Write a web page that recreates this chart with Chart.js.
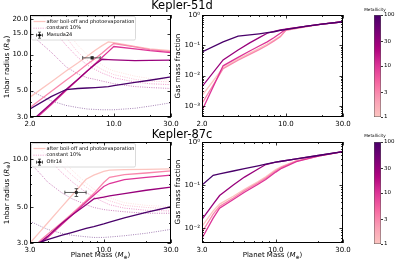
<!DOCTYPE html>
<html>
<head>
<meta charset="utf-8">
<script src="https://cdn.jsdelivr.net/npm/chart.js@4.4.1/dist/chart.umd.min.js"></script>
<style>
  body { margin: 0; background: #fff; }
  #fig { position: relative; width: 397px; height: 264px; overflow: hidden; font-family: 'DejaVu Sans', sans-serif; color: #000; }
  canvas { position: absolute; }
  .lbl { position: absolute; white-space: nowrap; line-height: 1; transform: translate(-50%, -50%); }
  .rot { transform: translate(-50%, -50%) rotate(-90deg); }
  .sub { font-size: 70%; vertical-align: -0.3em; }
</style>
</head>
<body>
<div id="fig">
  <canvas id="tl" width="200" height="132" style="left:0;top:0"></canvas>
  <canvas id="tr" width="185" height="132" style="left:172px;top:0"></canvas>
  <canvas id="bl" width="200" height="132" style="left:0;top:132px"></canvas>
  <canvas id="br" width="185" height="132" style="left:172px;top:132px"></canvas>
  <canvas id="cb1" width="37" height="132" style="left:360px;top:0"></canvas>
  <canvas id="cb2" width="37" height="132" style="left:360px;top:132px"></canvas>

  <div class="lbl" style="left:182px;top:6px;font-size:11.5px">Kepler-51d</div>
  <div class="lbl" style="left:182px;top:135px;font-size:11.5px">Kepler-87c</div>
  <div class="lbl rot" style="left:7px;top:67px;font-size:7.2px">1nbar radius (<i>R</i><span class="sub">⊕</span>)</div>
  <div class="lbl rot" style="left:7px;top:193px;font-size:7.2px">1nbar radius (<i>R</i><span class="sub">⊕</span>)</div>
  <div class="lbl rot" style="left:177.5px;top:66px;font-size:7.2px">Gas mass fraction</div>
  <div class="lbl rot" style="left:177.5px;top:192px;font-size:7.2px">Gas mass fraction</div>
  <div class="lbl" style="left:100.5px;top:256px;font-size:7px">Planet Mass (<i>M</i><span class="sub">⊕</span>)</div>
  <div class="lbl" style="left:272.5px;top:256px;font-size:7px">Planet Mass (<i>M</i><span class="sub">⊕</span>)</div>
  <div class="lbl" style="left:375px;top:10px;font-size:4.2px">Metallicity</div>
  <div class="lbl" style="left:375px;top:136px;font-size:4.2px">Metallicity</div>
</div>
<script>
// metallicity of each model track
const metallicities = [1, 3, 10, 30, 100];
const cbarTicks = [1, 3, 10, 30, 100];

// ---- Kepler-51d ----
const massGrid51 = [2, 3, 4, 5, 6, 7, 8, 9, 10, 15, 20, 30];
const radZ1_51   = [4.4, 5.9, 7.3, 8.5, 9.7, 10.9, 11.9, 12.8, 12.6, 11.7, 11.2, 10.8];
const radZ3_51   = [3.6, 4.9, 6.1, 7.2, 8.3, 9.3, 10.3, 11.4, 12.4, 11.6, 11.0, 10.6];
const radZ10_51  = [2.63, 3.8, 5.0, 6.15, 7.3, 8.4, 9.5, 10.6, 11.7, 11.2, 10.8, 10.4];
const radZ30_51  = [2.7, 3.9, 5.1, 6.2, 7.3, 8.3, 9.15, 9.1, 9.05, 8.9, 8.95, 9.0];
const radZ100_51 = [3.5, 4.45, 5.1, 5.2, 5.25, 5.3, 5.35, 5.4, 5.5, 5.85, 6.1, 6.5];
const dotZ1_51   = [45, 25, 16, 12, 10, 9.0, 8.2, 7.6, 7.3, 6.6, 6.3, 6.1];
const dotZ3_51   = [38, 21, 14, 10.5, 9.0, 8.1, 7.5, 7.1, 6.8, 6.2, 6.0, 5.9];
const dotZ10_51  = [30, 17, 12, 9.5, 8.2, 7.5, 7.0, 6.7, 6.4, 5.9, 5.7, 5.6];
const dotZ30_51  = [15, 10.5, 7.9, 6.9, 6.4, 6.2, 6.0, 5.85, 5.7, 5.4, 5.3, 5.2];
const dotZ100_51 = [5.0, 4.1, 3.75, 3.6, 3.5, 3.47, 3.45, 3.45, 3.45, 3.55, 3.7, 3.95];
const gasZ1_51   = [0.0022, 0.018, 0.035, 0.055, 0.08, 0.11, 0.15, 0.2, 0.32, 0.42, 0.5, 0.6];
const gasZ3_51   = [0.0012, 0.017, 0.032, 0.05, 0.072, 0.1, 0.14, 0.19, 0.31, 0.41, 0.5, 0.6];
const gasZ10_51  = [0.0007, 0.021, 0.04, 0.065, 0.095, 0.13, 0.18, 0.25, 0.34, 0.43, 0.5, 0.6];
const gasZ30_51  = [0.0043, 0.033, 0.07, 0.12, 0.18, 0.25, 0.29, 0.32, 0.34, 0.43, 0.5, 0.6];
const gasZ100_51 = [0.06, 0.13, 0.2, 0.22, 0.24, 0.26, 0.28, 0.31, 0.33, 0.43, 0.5, 0.6];
const obsMass51 = [6.6], obsMassErr51 = [1.1], obsRad51 = [9.4], obsRadErr51 = [0.2];

// ---- Kepler-87c ----
const massGrid87 = [3, 3.6, 4, 5, 6, 7.5, 8.5, 10, 11, 14, 20, 30];
const radZ1_87   = [3.0, 3.6, 4.0, 5.0, 6.0, 7.5, 7.95, 8.4, 8.55, 8.6, 8.65, 8.7];
const radZ3_87   = [2.7, 3.14, 3.4, 4.0, 4.6, 5.5, 6.1, 7.15, 7.7, 8.0, 8.2, 8.45];
const radZ10_87  = [2.6, 3.0, 3.25, 3.88, 4.5, 5.4, 5.95, 6.75, 7.05, 7.45, 7.7, 7.95];
const radZ30_87  = [2.7, 3.06, 3.3, 3.95, 4.5, 5.2, 5.65, 5.8, 5.9, 6.1, 6.4, 6.7];
const radZ100_87 = [2.92, 3.05, 3.15, 3.35, 3.5, 3.7, 3.8, 3.95, 4.05, 4.3, 4.65, 5.05];
const dotZ1_87   = [18, 14.5, 12.7, 10, 8.5, 7.1, 6.5, 6.0, 5.75, 5.35, 5.15, 5.05];
const dotZ3_87   = [16, 13, 11.5, 9.2, 7.9, 6.7, 6.2, 5.7, 5.5, 5.15, 5.0, 4.9];
const dotZ10_87  = [14, 11.5, 10.2, 8.3, 7.2, 6.2, 5.8, 5.4, 5.2, 4.95, 4.8, 4.75];
const dotZ30_87  = [9.5, 8.0, 7.2, 6.2, 5.65, 5.2, 5.0, 4.85, 4.8, 4.7, 4.6, 4.6];
const dotZ100_87 = [4.1, 3.8, 3.65, 3.45, 3.35, 3.28, 3.25, 3.25, 3.27, 3.33, 3.45, 3.65];
const gasZ1_87   = [0.011, 0.025, 0.036, 0.055, 0.08, 0.12, 0.155, 0.23, 0.27, 0.37, 0.47, 0.6];
const gasZ3_87   = [0.008, 0.021, 0.032, 0.05, 0.074, 0.112, 0.145, 0.215, 0.26, 0.36, 0.47, 0.6];
const gasZ10_87  = [0.0058, 0.017, 0.029, 0.046, 0.068, 0.104, 0.135, 0.2, 0.245, 0.35, 0.47, 0.6];
const gasZ30_87  = [0.016, 0.036, 0.057, 0.1, 0.153, 0.236, 0.3, 0.34, 0.357, 0.404, 0.486, 0.6];
const gasZ100_87 = [0.1, 0.168, 0.182, 0.212, 0.24, 0.279, 0.305, 0.34, 0.357, 0.404, 0.486, 0.6];
const obsMass87 = [6.4], obsMassErr87 = [1.1], obsRad87 = [6.2], obsRadErr87 = [0.35];

// tick labels
const xTicks51 = [2, 10, 30];
const xTicks87 = [3, 10, 30];
const rTicks51 = [3, 5, 10, 15, 20];
const rTicks87 = [3, 5, 10];
const gTicks51 = [0.001, 0.01, 0.1, 1];
const gTicks87 = [0.01, 0.1, 1];

Chart.defaults.font.family = "'DejaVu Sans', sans-serif";
Chart.defaults.color = '#000';

// truncated RdPu
const cmapStops = ['#fcc5c0', '#fa9fb5', '#f768a1', '#dd3497', '#ae017e', '#7a0177', '#49006a'];
function hexRgb(h) { return [1, 3, 5].map(i => parseInt(h.substr(i, 2), 16)); }
function cmap(t, a = 1) {
  t = Math.max(0, Math.min(1, t));
  const s = t * (cmapStops.length - 1), i = Math.min(Math.floor(s), cmapStops.length - 2), f = s - i;
  const c0 = hexRgb(cmapStops[i]), c1 = hexRgb(cmapStops[i + 1]);
  const c = c0.map((v, k) => Math.round(v + (c1[k] - v) * f));
  return `rgba(${c[0]},${c[1]},${c[2]},${a})`;
}
const zColor = (z, a) => cmap(Math.log10(z) / 2, a);

const pts = (mass, vals) => mass.map((m, i) => ({ x: m, y: vals[i] }));
const minorsBetween = (lo, hi, skip) => {
  const out = [];
  for (let d = Math.floor(Math.log10(lo)); d <= Math.ceil(Math.log10(hi)); d++)
    for (let k = 1; k < 10; k++) {
      const v = k * Math.pow(10, d);
      if (v >= lo * 0.999 && v <= hi * 1.001 && !skip.some(s => Math.abs(s - v) < 1e-9 * v)) out.push(v);
    }
  return out;
};

function buildSets(mass, solid, dotted, obs) {
  const sets = [];
  if (obs) sets.push({ data: pts(obs.mass, obs.rad), showLine: false, pointRadius: 1.6, pointBackgroundColor: '#000', pointBorderWidth: 0 });
  // higher metallicity on top
  for (let i = solid.length - 1; i >= 0; i--)
    sets.push({ data: pts(mass, solid[i]), borderColor: zColor(metallicities[i], 1), borderWidth: 1.3, pointRadius: 0 });
  if (dotted)
    for (let i = dotted.length - 1; i >= 0; i--)
      sets.push({ data: pts(mass, dotted[i]), borderColor: zColor(metallicities[i], 0.55), borderWidth: 0.9, borderDash: [1, 1.3], pointRadius: 0 });
  return sets;
}

const decor = {
  id: 'decor',
  afterDraw(chart, args, o) {
    const { ctx, chartArea: a, scales: { x, y } } = chart;
    ctx.save();
    // error bars
    if (o.err) {
      const e = o.err;
      ctx.strokeStyle = '#333'; ctx.lineWidth = 0.8;
      e.mass.forEach((m, i) => {
        const px = x.getPixelForValue(m), py = y.getPixelForValue(e.rad[i]);
        const x0 = x.getPixelForValue(m - e.massErr[i]), x1 = x.getPixelForValue(m + e.massErr[i]);
        const y0 = y.getPixelForValue(e.rad[i] - e.radErr[i]), y1 = y.getPixelForValue(e.rad[i] + e.radErr[i]);
        ctx.beginPath();
        ctx.moveTo(x0, py); ctx.lineTo(x1, py);
        ctx.moveTo(x0, py - 1.8); ctx.lineTo(x0, py + 1.8);
        ctx.moveTo(x1, py - 1.8); ctx.lineTo(x1, py + 1.8);
        ctx.moveTo(px, y0); ctx.lineTo(px, y1);
        ctx.moveTo(px - 1.8, y0); ctx.lineTo(px + 1.8, y0);
        ctx.moveTo(px - 1.8, y1); ctx.lineTo(px + 1.8, y1);
        ctx.stroke();
      });
    }
    // legend
    if (o.legend) {
      const bx = a.left + 1.5, by = a.top + 1.5, bw = 104, bh = 23.5;
      ctx.beginPath();
      ctx.roundRect(bx, by, bw, bh, 1.5);
      ctx.fillStyle = 'rgba(255,255,255,0.8)'; ctx.fill();
      ctx.strokeStyle = '#d0d0d0'; ctx.lineWidth = 0.8; ctx.stroke();
      const rows = [by + 5, by + 11.7, by + 18.7];
      ctx.lineWidth = 1.3; ctx.strokeStyle = zColor(1, 1);
      ctx.beginPath(); ctx.moveTo(bx + 2, rows[0]); ctx.lineTo(bx + 14, rows[0]); ctx.stroke();
      ctx.lineWidth = 0.9; ctx.strokeStyle = zColor(10, 0.55); ctx.setLineDash([1, 1.3]);
      ctx.beginPath(); ctx.moveTo(bx + 2, rows[1]); ctx.lineTo(bx + 14, rows[1]); ctx.stroke();
      ctx.setLineDash([]);
      const cx = bx + 8, cy = rows[2];
      ctx.strokeStyle = '#333'; ctx.lineWidth = 0.8;
      ctx.beginPath();
      ctx.moveTo(cx - 3, cy); ctx.lineTo(cx + 3, cy);
      ctx.moveTo(cx, cy - 3); ctx.lineTo(cx, cy + 3);
      ctx.moveTo(cx - 3, cy - 1.5); ctx.lineTo(cx - 3, cy + 1.5);
      ctx.moveTo(cx + 3, cy - 1.5); ctx.lineTo(cx + 3, cy + 1.5);
      ctx.moveTo(cx - 1.5, cy - 3); ctx.lineTo(cx + 1.5, cy - 3);
      ctx.moveTo(cx - 1.5, cy + 3); ctx.lineTo(cx + 1.5, cy + 3);
      ctx.stroke();
      ctx.fillStyle = '#000';
      ctx.beginPath(); ctx.arc(cx, cy, 1.4, 0, Math.PI * 2); ctx.fill();
      ctx.font = "5px 'DejaVu Sans'"; ctx.textBaseline = 'middle'; ctx.fillStyle = '#000';
      o.legend.forEach((t, i) => ctx.fillText(t, bx + 15, rows[i]));
    }
    // inward ticks on all sides + frame
    ctx.strokeStyle = '#000'; ctx.lineWidth = 0.8;
    ctx.beginPath();
    [[o.xMajor, 3.5], [o.xMinor, 2]].forEach(([vals, len]) => vals.forEach(v => {
      const p = Math.round(x.getPixelForValue(v)) + 0.5;
      ctx.moveTo(p, a.bottom); ctx.lineTo(p, a.bottom - len);
      ctx.moveTo(p, a.top); ctx.lineTo(p, a.top + len);
    }));
    [[o.yMajor, 3.5], [o.yMinor, 2]].forEach(([vals, len]) => vals.forEach(v => {
      const p = Math.round(y.getPixelForValue(v)) + 0.5;
      ctx.moveTo(a.left, p); ctx.lineTo(a.left + len, p);
      ctx.moveTo(a.right, p); ctx.lineTo(a.right - len, p);
    }));
    ctx.stroke();
    ctx.lineWidth = 1;
    ctx.strokeRect(Math.round(a.left) + 0.5, Math.round(a.top) + 0.5, Math.round(a.right - a.left) - 1, Math.round(a.bottom - a.top) - 1);
    ctx.restore();
  }
};

const fixed1 = v => Number(v).toFixed(1);
const supDigits = { '-': '⁻', '0': '⁰', '1': '¹', '2': '²', '3': '³', '4': '⁴' };
const pow10 = v => '10' + String(Math.round(Math.log10(v))).split('').map(c => supDigits[c]).join('');

function logAxis(min, max, ticks, fmt, size, isX) {
  return {
    type: 'logarithmic', min, max,
    grid: { display: false, drawTicks: false },
    border: { display: false },
    afterBuildTicks: s => { s.ticks = ticks.map(v => ({ value: v })); },
    ticks: { callback: v => fmt(v), autoSkip: false, maxRotation: 0, padding: isX ? 3 : 2, font: { size: 7 }, color: '#000' },
    afterFit: s => {
      if (isX) s.height = size; else s.width = size;
      s.paddingLeft = 0; s.paddingRight = 0; s.paddingTop = 0; s.paddingBottom = 0;
    }
  };
}

function panel(id, p) {
  new Chart(document.getElementById(id), {
    type: 'line',
    data: { datasets: p.sets },
    options: {
      responsive: false, animation: false,
      layout: { padding: p.pad },
      plugins: {
        legend: { display: false }, tooltip: { enabled: false },
        decor: {
          err: p.err, legend: p.legend,
          xMajor: p.xTicks, xMinor: minorsBetween(p.xRange[0], p.xRange[1], p.xTicks),
          yMajor: p.yTicks, yMinor: minorsBetween(p.yRange[0], p.yRange[1], p.yTicks)
        }
      },
      scales: {
        x: logAxis(p.xRange[0], p.xRange[1], p.xTicks, fixed1, p.xH, true),
        y: logAxis(p.yRange[0], p.yRange[1], p.yTicks, p.yFmt, 30, false)
      }
    },
    plugins: [decor]
  });
}

const obs51 = { mass: obsMass51, massErr: obsMassErr51, rad: obsRad51, radErr: obsRadErr51 };
const obs87 = { mass: obsMass87, massErr: obsMassErr87, rad: obsRad87, radErr: obsRadErr87 };

panel('tl', {
  sets: buildSets(massGrid51, [radZ1_51, radZ3_51, radZ10_51, radZ30_51, radZ100_51],
    [dotZ1_51, dotZ3_51, dotZ10_51, dotZ30_51, dotZ100_51], obs51),
  pad: { left: 0, top: 15, right: 29, bottom: 0 }, xH: 15,
  xRange: [2, 30], xTicks: xTicks51, yRange: [3, 21.5], yTicks: rTicks51, yFmt: fixed1,
  err: obs51, legend: ['after boil-off and photoevaporation', 'constant 10%', 'Masuda24']
});
panel('tr', {
  sets: buildSets(massGrid51, [gasZ1_51, gasZ3_51, gasZ10_51, gasZ30_51, gasZ100_51]),
  pad: { left: 0, top: 15, right: 14, bottom: 0 }, xH: 15,
  xRange: [2, 30], xTicks: xTicks51, yRange: [4.3e-4, 1], yTicks: gTicks51, yFmt: pow10
});
panel('bl', {
  sets: buildSets(massGrid87, [radZ1_87, radZ3_87, radZ10_87, radZ30_87, radZ100_87],
    [dotZ1_87, dotZ3_87, dotZ10_87, dotZ30_87, dotZ100_87], obs87),
  pad: { left: 0, top: 10, right: 29, bottom: 0 }, xH: 21,
  xRange: [3, 30], xTicks: xTicks87, yRange: [3, 12.8], yTicks: rTicks87, yFmt: fixed1,
  err: obs87, legend: ['after boil-off and photoevaporation', 'constant 10%', 'Ofir14']
});
panel('br', {
  sets: buildSets(massGrid87, [gasZ1_87, gasZ3_87, gasZ10_87, gasZ30_87, gasZ100_87]),
  pad: { left: 0, top: 10, right: 14, bottom: 0 }, xH: 21,
  xRange: [3, 30], xTicks: xTicks87, yRange: [4.5e-3, 1], yTicks: gTicks87, yFmt: pow10
});

function colorbar(id, padTop, padBottom) {
  new Chart(document.getElementById(id), {
    type: 'bar',
    data: {
      labels: [''],
      datasets: [{
        data: [[cbarTicks[0], cbarTicks[cbarTicks.length - 1]]],
        backgroundColor: c => {
          const a = c.chart.chartArea;
          if (!a) return cmap(0.5);
          const g = c.chart.ctx.createLinearGradient(0, a.bottom, 0, a.top);
          for (let i = 0; i <= 20; i++) g.addColorStop(i / 20, cmap(i / 20));
          return g;
        },
        borderColor: '#555', borderWidth: 0.8, borderSkipped: false,
        barPercentage: 1, categoryPercentage: 1
      }]
    },
    options: {
      responsive: false, animation: false,
      layout: { padding: { left: 14, top: padTop, bottom: padBottom, right: 0 } },
      plugins: { legend: { display: false }, tooltip: { enabled: false } },
      scales: {
        x: { display: false },
        y: {
          type: 'logarithmic', position: 'right', min: 1, max: 100,
          afterBuildTicks: s => { s.ticks = cbarTicks.map(v => ({ value: v })); },
          ticks: { callback: v => String(v), font: { size: 5.5 }, padding: 1, color: '#000', autoSkip: false },
          grid: { drawOnChartArea: false, drawTicks: true, tickLength: 2, color: '#000', lineWidth: 0.8 },
          border: { display: false },
          afterFit: s => { s.width = 16; s.paddingTop = 0; s.paddingBottom = 0; }
        }
      }
    }
  });
}
colorbar('cb1', 15, 15);
colorbar('cb2', 10, 20);
</script>
</body>
</html>
